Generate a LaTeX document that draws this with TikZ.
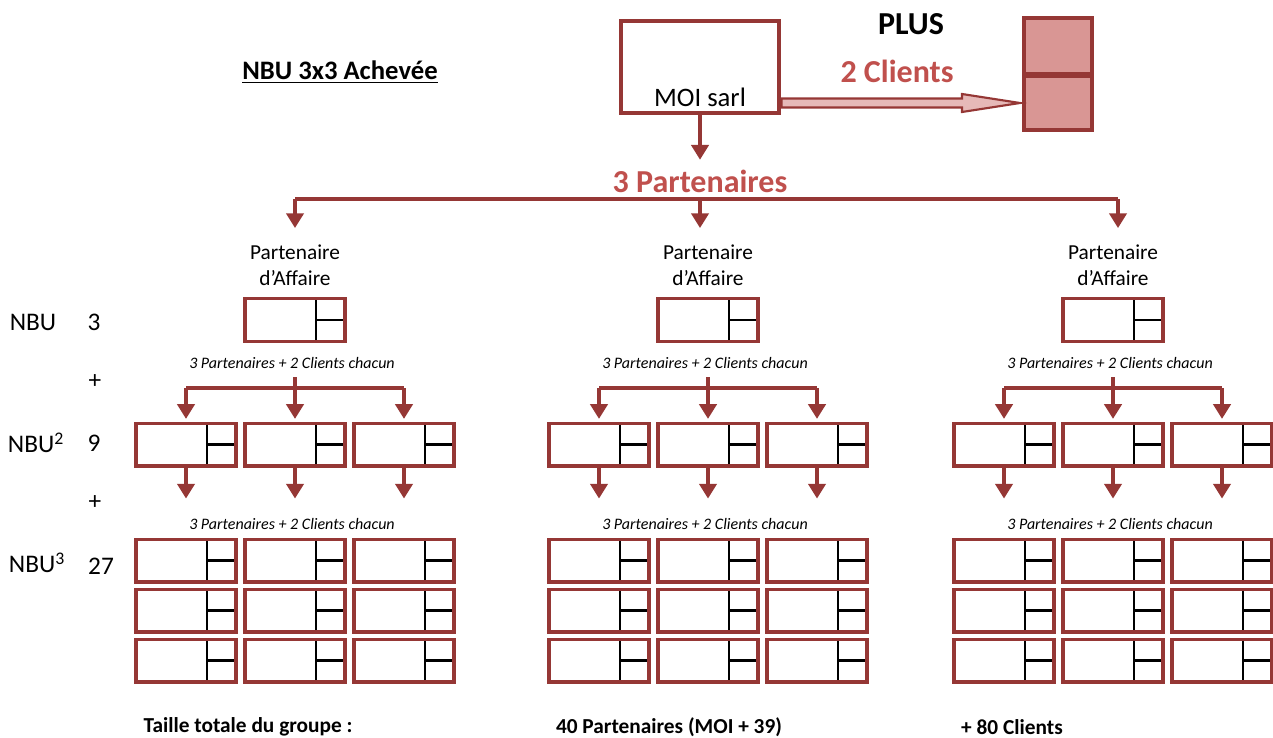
\documentclass[tikz,border=0pt]{standalone}
\usepackage{fontspec}
\setmainfont{Carlito}
\usetikzlibrary{arrows.meta, calc, positioning}
\definecolor{brdred}{HTML}{953735}
\definecolor{txtred}{HTML}{C0504D}
\definecolor{clipink}{HTML}{D99694}
\definecolor{arrpink}{HTML}{E6B9B8}

\tikzset{
  pbox/.style={draw=brdred, line width=2.5pt, minimum width=75pt, minimum height=32pt, inner sep=0pt,
    path picture={
      \draw[black, line width=1.9pt]
        ($(path picture bounding box.south west)!0.71!(path picture bounding box.south east)$) --
        ($(path picture bounding box.north west)!0.71!(path picture bounding box.north east)$);
      \draw[black, line width=1.9pt]
        ($(path picture bounding box.west)!0.71!(path picture bounding box.east)$) --
        (path picture bounding box.east);
    }},
  conn/.style={draw=brdred, line width=2.3pt, -{Triangle[width=13pt,length=11pt]}},
  bar/.style={draw=brdred, line width=2.3pt},
  lbl/.style={font=\fontsize{16}{19.5}\selectfont, align=center, inner sep=0pt},
  hint/.style={font=\fontsize{12}{14}\selectfont\itshape, inner sep=0pt},
  side/.style={font=\fontsize{19}{22}\selectfont, inner sep=0pt},
  big/.style={font=\fontsize{24}{28}\selectfont\bfseries, text=txtred, inner sep=0pt},
  foot/.style={font=\fontsize{16}{19}\selectfont\bfseries, inner sep=0pt}
}

\begin{document}
\begin{tikzpicture}[x=0.75pt, y=-0.75pt]
\useasboundingbox (0,0) rectangle (1273,738);

% title and top part
\node[font=\fontsize{20}{24}\selectfont\bfseries, inner sep=0pt] (titre) at (340,72) {\underline{NBU 3x3 Achevée}};
\node[draw=brdred, line width=2.5pt, minimum width=118.5pt, minimum height=69pt] (moi) at (700,67) {};
\node[font=\fontsize{20}{24}\selectfont, inner sep=0pt] (moitxt) at (700,97) {MOI sarl};
\node[font=\fontsize{24}{28}\selectfont\bfseries, inner sep=0pt] (plus) at (911,24) {PLUS};
\node[big] (deuxcli) at (897,71) {2 Clients};
\node[draw=brdred, fill=clipink, line width=3pt, minimum width=51pt, minimum height=42pt] (cliA) at (1058,46) {};
\node[draw=brdred, fill=clipink, line width=3pt, minimum width=51pt, minimum height=40.5pt] (cliB) at (1058,103) {};

% hollow arrow to the clients
\coordinate (hs) at ($(moi.east |- cliB.west)+(1,0)$);
\coordinate (ht) at ($(cliB.west)+(-2,0)$);
\filldraw[fill=arrpink, draw=brdred, line width=1.6pt]
  ($(hs)+(0,-4.5)$) -- ($(ht)+(-58,-4.5)$) -- ($(ht)+(-58,-9)$) -- (ht) --
  ($(ht)+(-58,9)$) -- ($(ht)+(-58,4.5)$) -- ($(hs)+(0,4.5)$) -- cycle;

\draw[conn] (moi.south) -- ++(0,45);
\node[big] (trois) at (700,181) {3 Partenaires};

% first split
\coordinate (barL) at (295,199);
\coordinate (barM) at (700,199);
\coordinate (barR) at (1118,199);
\draw[bar] (barL) -- (barR);
\foreach \c in {barL,barM,barR}
  \draw[conn] (\c) -- ++(0,29);

% three groups
\foreach \g/\gx in {a/295, b/708, c/1113} {
  \node[lbl] (\g lbl) at (\gx,265) {Partenaire\\d’Affaire};
  \node[pbox] (\g0) at (\gx,320) {};
  \node[hint] (\g h1) at ($(\gx,363)+(-3,0)$) {3 Partenaires + 2 Clients chacun};
  \node[hint] (\g h2) at ($(\gx,524)+(-3,0)$) {3 Partenaires + 2 Clients chacun};
  \foreach \k/\dx in {1/-109, 2/0, 3/109} {
    \node[pbox] (\g\k) at ($(\gx,444.5)+(\dx,0)$) {};
    \draw[conn] (\g\k.south) -- ++(0,31);
    \foreach \r/\ry in {1/560.5, 2/610.5, 3/660.5}
      \node[pbox] (\g\k r\r) at ($(\gx,\ry)+(\dx,0)$) {};
  }
  \coordinate (\g s) at (\gx,377);
  \draw[bar] (\g s) -- ++(0,11) coordinate (\g j);
  \draw[bar] (\g j -| \g1.north) -- (\g j -| \g3.north);
  \foreach \k in {1,2,3}
    \draw[conn, shorten >=2pt] (\g j -| \g\k.north) -- (\g\k.north);
}

% side labels
\node[side] (nbu1) at (33,322) {NBU};
\node[side] (n1) at (94,322) {3};
\node[side] (p1) at (95,382) {+};
\node[side] (nbu2) at (36,443) {NBU\textsuperscript{2}};
\node[side] (n2) at (94,443) {9};
\node[side] (p2) at (95,503) {+};
\node[side] (nbu3) at (37,563) {NBU\textsuperscript{3}};
\node[side] (n3) at (101,566) {27};

% totals
\node[foot] (tot1) at (248,727) {Taille totale du groupe :};
\node[foot] (tot2) at (669,727) {40 Partenaires (MOI + 39)};
\node[foot] (tot3) at (1012,727) {+ 80 Clients};
\end{tikzpicture}
\end{document}
